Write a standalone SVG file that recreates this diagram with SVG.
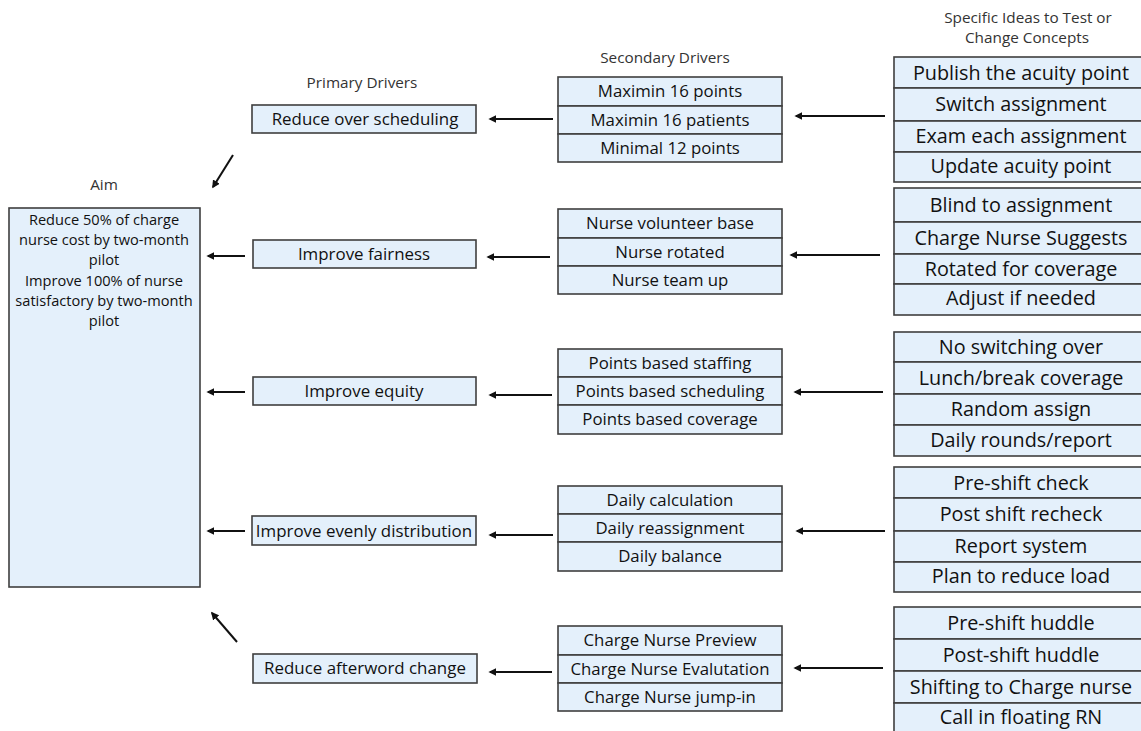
<svg xmlns="http://www.w3.org/2000/svg" width="1141" height="731" viewBox="0 0 1141 731">
<style>
.box{fill:#E4F0FB;stroke:#3f3f3f;stroke-width:1.6}
.hdr{font-family:"Open Sans","Noto Sans",sans-serif;font-size:15.3px;fill:#333;text-anchor:middle}
.aim{font-family:"Open Sans","Noto Sans",sans-serif;font-size:14.6px;fill:#111;text-anchor:middle}
.pri{font-family:"Open Sans","Noto Sans",sans-serif;font-size:16.9px;fill:#111;text-anchor:middle}
.sec{font-family:"Open Sans","Noto Sans",sans-serif;font-size:16.8px;fill:#111;text-anchor:middle}
.idea{font-family:"Open Sans","Noto Sans",sans-serif;font-size:19.8px;fill:#111;text-anchor:middle}
.arr{stroke:#111;stroke-width:2;fill:none;marker-end:url(#ah)}
</style>
<defs>
<marker id="ah" viewBox="0 0 10 10" refX="8" refY="5" markerWidth="4" markerHeight="4" orient="auto" markerUnits="strokeWidth">
<path d="M0,0 L10,5 L0,10 z" fill="#111"/>
</marker>
</defs>
<rect width="1141" height="731" fill="#fff"/>
<g id="headers">
<text class="hdr" x="104" y="190">Aim</text>
<text class="hdr" x="362" y="88">Primary Drivers</text>
<text class="hdr" x="665" y="63">Secondary Drivers</text>
<text class="hdr" x="1028" y="23">Specific Ideas to Test or</text>
<text class="hdr" x="1027" y="43">Change Concepts</text>
</g>
<g id="aim">
<rect class="box" x="9" y="208" width="191" height="379"/>
<text class="aim" x="104" y="225">Reduce 50% of charge</text>
<text class="aim" x="104" y="245">nurse cost by two-month</text>
<text class="aim" x="104" y="265">pilot</text>
<text class="aim" x="104" y="286">Improve 100% of nurse</text>
<text class="aim" x="104" y="306">satisfactory by two-month</text>
<text class="aim" x="104" y="326">pilot</text>
</g>
<g id="primary1"><rect class="box" x="252" y="105" width="224" height="28"/><text class="pri" x="365" y="125">Reduce over scheduling</text></g>
<g id="primary2"><rect class="box" x="253" y="240" width="223" height="28"/><text class="pri" x="364" y="260">Improve fairness</text></g>
<g id="primary3"><rect class="box" x="253" y="377" width="223" height="28"/><text class="pri" x="364" y="397">Improve equity</text></g>
<g id="primary4"><rect class="box" x="252" y="516" width="224" height="29"/><text class="pri" x="364" y="537">Improve evenly distribution</text></g>
<g id="primary5"><rect class="box" x="253" y="654" width="224" height="29"/><text class="pri" x="365" y="674">Reduce afterword change</text></g>

<g id="secondary1">
<rect class="box" x="558" y="77" width="224" height="29"/><rect class="box" x="558" y="106" width="224" height="28"/><rect class="box" x="558" y="134" width="224" height="28"/>
<text class="sec" x="670" y="97">Maximin 16 points</text><text class="sec" x="670" y="126">Maximin 16 patients</text><text class="sec" x="670" y="154">Minimal 12 points</text>
</g>
<g id="secondary2">
<rect class="box" x="558" y="209" width="224" height="29"/><rect class="box" x="558" y="238" width="224" height="28"/><rect class="box" x="558" y="266" width="224" height="28"/>
<text class="sec" x="670" y="229">Nurse volunteer base</text><text class="sec" x="670" y="258">Nurse rotated</text><text class="sec" x="670" y="286">Nurse team up</text>
</g>
<g id="secondary3">
<rect class="box" x="558" y="349" width="224" height="28"/><rect class="box" x="558" y="377" width="224" height="28"/><rect class="box" x="558" y="405" width="224" height="29"/>
<text class="sec" x="670" y="369">Points based staffing</text><text class="sec" x="670" y="397">Points based scheduling</text><text class="sec" x="670" y="425">Points based coverage</text>
</g>
<g id="secondary4">
<rect class="box" x="558" y="486" width="224" height="28"/><rect class="box" x="558" y="514" width="224" height="28"/><rect class="box" x="558" y="542" width="224" height="29"/>
<text class="sec" x="670" y="506">Daily calculation</text><text class="sec" x="670" y="534">Daily reassignment</text><text class="sec" x="670" y="562">Daily balance</text>
</g>
<g id="secondary5">
<rect class="box" x="558" y="626" width="224" height="29"/><rect class="box" x="558" y="655" width="224" height="28"/><rect class="box" x="558" y="683" width="224" height="28"/>
<text class="sec" x="670" y="646">Charge Nurse Preview</text><text class="sec" x="670" y="675">Charge Nurse Evalutation</text><text class="sec" x="670" y="703">Charge Nurse jump-in</text>
</g>

<g id="ideas1">
<rect class="box" x="894" y="57" width="254" height="31"/><rect class="box" x="894" y="88" width="254" height="33"/><rect class="box" x="894" y="121" width="254" height="31"/><rect class="box" x="894" y="152" width="254" height="30"/>
<text class="idea" x="1021" y="80">Publish the acuity point</text><text class="idea" x="1021" y="111">Switch assignment</text><text class="idea" x="1021" y="143">Exam each assignment</text><text class="idea" x="1021" y="173">Update acuity point</text>
</g>
<g id="ideas2">
<rect class="box" x="894" y="188" width="254" height="34"/><rect class="box" x="894" y="222" width="254" height="32"/><rect class="box" x="894" y="254" width="254" height="30"/><rect class="box" x="894" y="284" width="254" height="31"/>
<text class="idea" x="1021" y="212">Blind to assignment</text><text class="idea" x="1021" y="245">Charge Nurse Suggests</text><text class="idea" x="1021" y="276">Rotated for coverage</text><text class="idea" x="1021" y="305">Adjust if needed</text>
</g>
<g id="ideas3">
<rect class="box" x="894" y="332" width="254" height="30"/><rect class="box" x="894" y="362" width="254" height="32"/><rect class="box" x="894" y="394" width="254" height="31"/><rect class="box" x="894" y="425" width="254" height="31"/>
<text class="idea" x="1021" y="354">No switching over</text><text class="idea" x="1021" y="385">Lunch/break coverage</text><text class="idea" x="1021" y="416">Random assign</text><text class="idea" x="1021" y="447">Daily rounds/report</text>
</g>
<g id="ideas4">
<rect class="box" x="894" y="467" width="254" height="31"/><rect class="box" x="894" y="498" width="254" height="33"/><rect class="box" x="894" y="531" width="254" height="31"/><rect class="box" x="894" y="562" width="254" height="30"/>
<text class="idea" x="1021" y="490">Pre-shift check</text><text class="idea" x="1021" y="521">Post shift recheck</text><text class="idea" x="1021" y="553">Report system</text><text class="idea" x="1021" y="583">Plan to reduce load</text>
</g>
<g id="ideas5">
<rect class="box" x="894" y="607" width="254" height="32"/><rect class="box" x="894" y="639" width="254" height="32"/><rect class="box" x="894" y="671" width="254" height="32"/><rect class="box" x="894" y="703" width="254" height="32"/>
<text class="idea" x="1021" y="630">Pre-shift huddle</text><text class="idea" x="1021" y="662">Post-shift huddle</text><text class="idea" x="1021" y="694">Shifting to Charge nurse</text><text class="idea" x="1021" y="724">Call in floating RN</text>
</g>

<g id="connectors">
<line class="arr" x1="885" y1="116" x2="796" y2="116"/>
<line class="arr" x1="880" y1="255" x2="791" y2="255"/>
<line class="arr" x1="883" y1="392" x2="795" y2="392"/>
<line class="arr" x1="885" y1="531" x2="797" y2="531"/>
<line class="arr" x1="883" y1="668" x2="795" y2="668"/>
<line class="arr" x1="553" y1="119" x2="490" y2="119"/>
<line class="arr" x1="550" y1="257" x2="488" y2="257"/>
<line class="arr" x1="552" y1="395" x2="490" y2="395"/>
<line class="arr" x1="553" y1="535" x2="490" y2="535"/>
<line class="arr" x1="552" y1="672" x2="490" y2="672"/>
<line class="arr" x1="245" y1="256" x2="208" y2="256"/>
<line class="arr" x1="245" y1="392" x2="208" y2="392"/>
<line class="arr" x1="245" y1="531" x2="208" y2="531"/>
<line class="arr" x1="233" y1="155" x2="213" y2="187"/>
<line class="arr" x1="237" y1="642" x2="212" y2="613"/>
</g>
</svg>
